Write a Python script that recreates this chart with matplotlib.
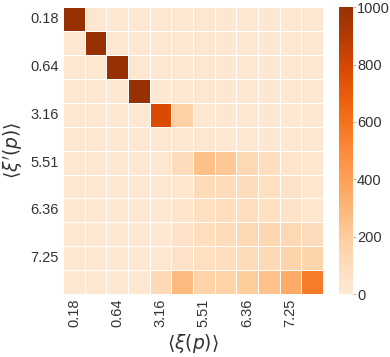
import numpy as np
import matplotlib
matplotlib.use("Agg")
import matplotlib.pyplot as plt
from matplotlib.colors import LinearSegmentedColormap
import seaborn as sns

# tick labels (every other bin is labelled)
tick_labels = ["0.18", "0.64", "3.16", "5.51", "6.36", "7.25"]

# counts per bin, rows = <xi'(p)>, cols = <xi(p)>
counts = np.array([
    [1000, 20, 20, 20, 20, 20, 20, 20, 20, 20, 20, 20],
    [20, 1000, 20, 20, 20, 20, 20, 20, 20, 20, 20, 20],
    [20, 20, 1000, 20, 20, 20, 20, 20, 20, 20, 20, 20],
    [20, 20, 20, 1000, 10, 20, 20, 20, 20, 20, 20, 20],
    [20, 20, 20, 20, 780, 180, 10, 20, 20, 20, 12, 20],
    [20, 20, 20, 20, 20, 20, 20, 10, 20, 20, 20, 20],
    [20, 20, 20, 20, 20, 100, 250, 220, 130, 90, 50, 30],
    [20, 20, 20, 20, 20, 30, 110, 110, 100, 80, 60, 30],
    [20, 20, 20, 20, 20, 40, 80, 90, 90, 80, 60, 30],
    [20, 20, 20, 20, 10, 60, 90, 110, 130, 140, 130, 100],
    [20, 20, 20, 20, 20, 60, 80, 90, 110, 120, 150, 150],
    [20, 20, 20, 20, 120, 280, 170, 170, 200, 250, 350, 560],
])

sns.set_style("white")
plt.rcParams["font.family"] = ["Liberation Sans", "DejaVu Sans"]

base = plt.get_cmap("Oranges")
cmap = LinearSegmentedColormap.from_list("or_trunc", base(np.linspace(0.1, 0.92, 256)))

fig = plt.figure(figsize=(3.9, 3.57), dpi=100)
ax = fig.add_axes([0.162, 0.176, 0.666, 0.804])
cax = fig.add_axes([0.869, 0.176, 0.036, 0.804])

sns.heatmap(counts, ax=ax, cbar_ax=cax, cmap=cmap, vmin=0, vmax=1000,
            linewidths=0.6, linecolor="white")

pos = np.arange(0, 12, 2) + 0.5
ax.set_xticks(pos)
ax.set_xticklabels(tick_labels, rotation=90, fontsize=10.5, color="#333333")
ax.set_yticks(pos)
ax.set_yticklabels(tick_labels, rotation=0, fontsize=10.5, color="#333333")
ax.tick_params(length=0, pad=3)
ax.set_xlabel(r"$\langle \xi(p) \rangle$", fontsize=13.5, color="#333333")
ax.set_ylabel(r"$\langle \xi'(p) \rangle$", fontsize=13.5, color="#333333")

cax.set_yticks([0, 200, 400, 600, 800, 1000])
cax.tick_params(labelsize=10.5, labelcolor="#333333", length=2, width=0.5, color="#999999", pad=1)

fig.savefig("out.png", dpi=100)
